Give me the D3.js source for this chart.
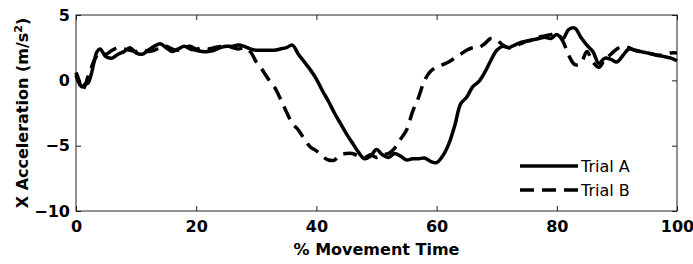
<!DOCTYPE html>
<html>
<head>
<meta charset="utf-8">
<script src="https://cdn.jsdelivr.net/npm/d3@7"></script>
<style>
  body { margin: 0; background: #fff; }
  svg { display: block; font-family: "DejaVu Sans", sans-serif; }
</style>
</head>
<body>
<div id="chart"></div>
<script>
'use strict'

// % movement time samples shared by both trials
const time = [0, 0.5, 1, 1.5, 2, 2.5, 3, 3.5, 4,
    5, 6, 7, 8, 9, 10, 11, 12, 13, 14,
    15, 16, 17, 18, 19, 20, 21, 22, 23, 24,
    25, 26, 27, 28, 29, 30, 31, 32, 33, 34,
    35, 36, 37, 38, 39, 40, 41, 42, 43, 44,
    45, 46, 47, 48, 49, 50, 51, 52, 53, 54,
    55, 56, 57, 58, 59, 60, 61, 62, 63, 64,
    65, 66, 67, 68, 69, 70, 71, 72, 73, 74,
    75, 76, 77, 78, 79, 80, 81, 82, 83, 84,
    85, 86, 87, 88, 89, 90, 91, 92, 93, 94,
    95, 96, 97, 98, 99, 100];

const trialA = [0.4, -0.2, -0.5, -0.3, -0.2, 0.4, 1.4, 2.2, 2.4,
    1.8, 1.7, 2.0, 2.2, 2.5, 2.1, 2.0, 2.3, 2.6, 2.8,
    2.5, 2.2, 2.4, 2.6, 2.4, 2.3, 2.2, 2.2, 2.3, 2.5,
    2.6, 2.6, 2.7, 2.6, 2.4, 2.3, 2.3, 2.3, 2.3, 2.4,
    2.5, 2.7, 2.0, 1.4, 0.8, 0.1, -0.8, -1.6, -2.5, -3.3,
    -4.1, -4.8, -5.5, -6.0, -5.8, -5.3, -5.7, -5.9, -5.6, -5.8,
    -6.1, -6.0, -6.0, -5.95, -6.2, -6.3, -5.8, -4.9, -3.5, -1.8,
    -1.3, -0.5, -0.1, 0.6, 1.5, 2.3, 2.6, 2.5, 2.7, 2.9,
    3.0, 3.1, 3.2, 3.3, 3.2, 3.5, 3.2, 3.9, 4.0, 3.3,
    2.7, 2.2, 1.3, 1.7, 1.6, 1.4, 1.9, 2.4, 2.3, 2.2,
    2.1, 2.0, 1.9, 1.8, 1.7, 1.5];

const trialB = [0.6, 0.0, -0.8, -0.4, 0.3, 0.9, 1.5, 1.9, 2.1,
    2.0, 2.3, 2.5, 2.4, 2.3, 2.2, 2.4, 2.2, 2.3, 2.5,
    2.6, 2.4, 2.3, 2.5, 2.6, 2.4, 2.5, 2.4, 2.5, 2.6,
    2.7, 2.5, 2.4, 2.5, 2.2, 1.4, 0.8, 0.1, -0.5, -1.4,
    -2.4, -3.3, -3.8, -4.5, -5.1, -5.4, -5.8, -6.1, -6.1, -5.7,
    -5.6, -5.6, -5.8, -5.9, -5.7, -5.9, -5.7, -5.6, -5.2, -4.5,
    -3.8, -2.4, -1.3, 0.0, 0.7, 1.0, 1.2, 1.4, 1.7, 2.0,
    2.3, 2.5, 2.5, 2.8, 3.2, 3.1, 2.7, 2.5, 2.6, 2.8,
    3.0, 3.1, 3.3, 3.4, 3.5, 3.6, 3.0, 1.9, 1.2, 1.3,
    2.2, 1.4, 1.0, 1.6, 2.0, 2.4, 2.6, 2.5, 2.3, 2.2,
    2.1, 2.0, 1.9, 2.0, 2.1, 2.1];

const xTicks = [0, 20, 40, 60, 80, 100];
const yTicks = [-10, -5, 0, 5];
const seriesNames = ["Trial A", "Trial B"];

const width = 693;
const height = 264;
const margin = { top: 15, right: 16, bottom: 53, left: 76 };
const plotW = width - margin.left - margin.right;
const plotH = height - margin.top - margin.bottom;
const dash = "14,8";

const svg = d3.select("#chart")
    .append("svg")
    .attr("width", width)
    .attr("height", height);

const g = svg.append("g")
    .attr("transform", `translate(${margin.left},${margin.top})`);

const x = d3.scaleLinear().domain([0, 100]).range([0, plotW]);
const y = d3.scaleLinear().domain([-10, 5]).range([plotH, 0]);

// Axes with inward ticks on all four sides
g.append("g")
    .attr("class", "axis")
    .attr("transform", `translate(0,${plotH})`)
    .call(d3.axisBottom(x).tickValues(xTicks).tickSizeInner(-5).tickSizeOuter(0).tickPadding(10));

g.append("g")
    .attr("class", "axis")
    .call(d3.axisTop(x).tickValues(xTicks).tickSizeInner(-5).tickSizeOuter(0).tickFormat(""));

g.append("g")
    .attr("class", "axis")
    .call(d3.axisLeft(y).tickValues(yTicks).tickSizeInner(-5).tickSizeOuter(0).tickPadding(6));

g.append("g")
    .attr("class", "axis")
    .attr("transform", `translate(${plotW},0)`)
    .call(d3.axisRight(y).tickValues(yTicks).tickSizeInner(-5).tickSizeOuter(0).tickFormat(""));

g.selectAll(".axis path").remove();
g.selectAll(".axis line").attr("stroke", "#222");
g.selectAll(".axis text")
    .style("font-family", "'DejaVu Sans', sans-serif")
    .style("font-size", "16px")
    .style("font-weight", "bold")
    .attr("fill", "#000");

// frame
g.append("rect")
    .attr("width", plotW)
    .attr("height", plotH)
    .attr("fill", "none")
    .attr("stroke", "#222")
    .attr("stroke-width", 1);

const line = d3.line()
    .x(d => x(d[0]))
    .y(d => y(d[1]))
    .curve(d3.curveCatmullRom);

g.append("path")
    .datum(time.map((t, i) => [t, trialA[i]]))
    .attr("d", line)
    .attr("fill", "none")
    .attr("stroke", "#000")
    .attr("stroke-width", 3.5)
    .attr("stroke-linejoin", "round");

g.append("path")
    .datum(time.map((t, i) => [t, trialB[i]]))
    .attr("d", line)
    .attr("fill", "none")
    .attr("stroke", "#000")
    .attr("stroke-width", 3.5)
    .attr("stroke-dasharray", dash);

// Axis labels
svg.append("text")
    .attr("x", margin.left + plotW / 2)
    .attr("y", 255)
    .attr("text-anchor", "middle")
    .style("font-size", "16px")
    .style("font-weight", "bold")
    .text("% Movement Time");

const yLabel = svg.append("text")
    .attr("transform", `translate(28,${margin.top + plotH / 2}) rotate(-90)`)
    .attr("text-anchor", "middle")
    .style("font-size", "16px")
    .style("font-weight", "bold");
yLabel.append("tspan").text("X Acceleration (m/s");
yLabel.append("tspan").attr("dy", -6).style("font-size", "11px").text("2");
yLabel.append("tspan").attr("dy", 6).text(")");

// Legend
const legend = svg.selectAll(".legend")
    .data(seriesNames)
    .enter().append("g")
    .attr("class", "legend")
    .attr("transform", (d, i) => `translate(520,${166 + i * 24})`);

legend.append("line")
    .attr("x1", 0)
    .attr("x2", 58)
    .attr("stroke", "#000")
    .attr("stroke-width", 3.5)
    .attr("stroke-dasharray", (d, i) => i === 1 ? dash : null);

legend.append("text")
    .attr("x", 61)
    .attr("y", 6)
    .style("font-size", "16px")
    .text(d => d);
</script>
</body>
</html>
